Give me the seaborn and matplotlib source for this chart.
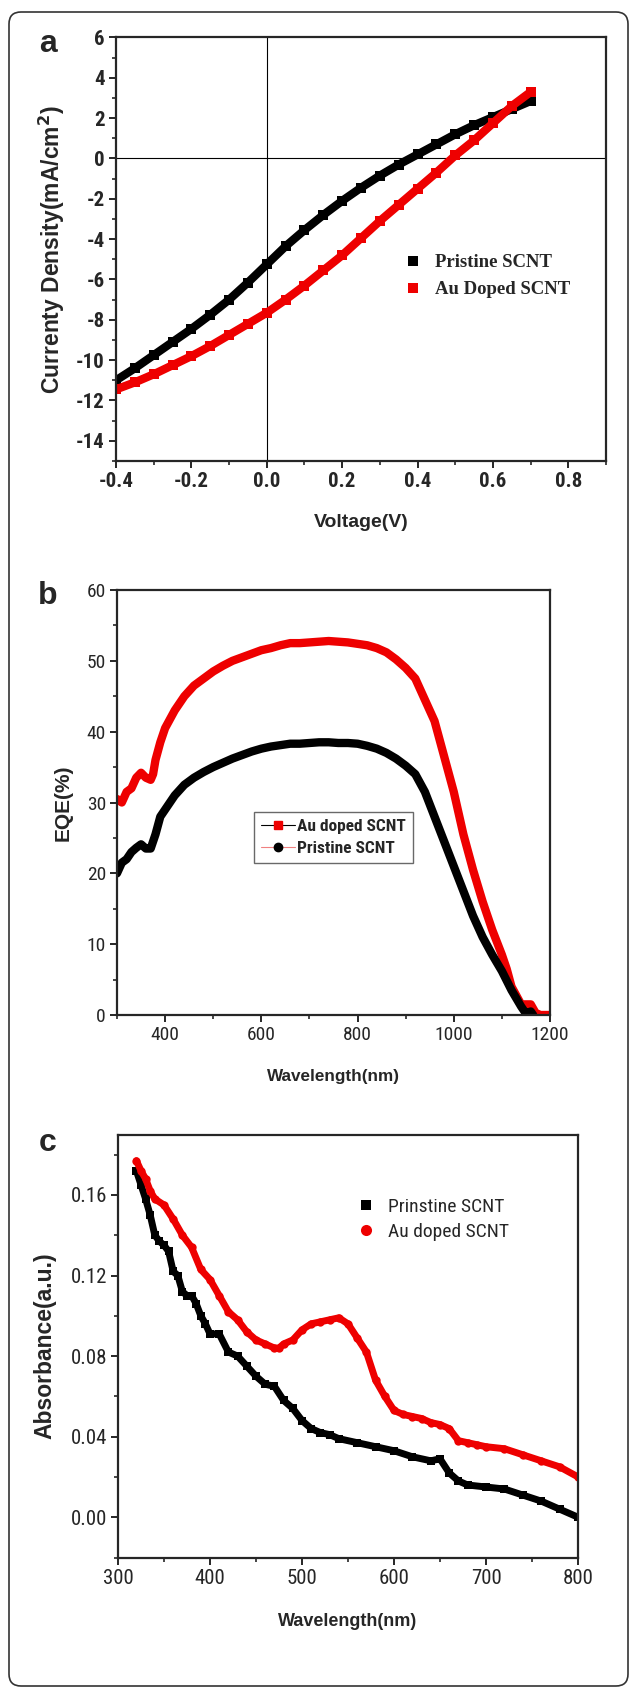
import numpy as np
import pandas as pd
import matplotlib
matplotlib.use('Agg')
import matplotlib.pyplot as plt
import seaborn as sns
from matplotlib.lines import Line2D
from matplotlib.patches import FancyBboxPatch
from matplotlib.ticker import MultipleLocator

# ---- panel a: J-V curves ----
voltage = [-0.40, -0.35, -0.30, -0.25, -0.20, -0.15, -0.10, -0.05, 0.00, 0.05, 0.10, 0.15,
           0.20, 0.25, 0.30, 0.35, 0.40, 0.45, 0.50, 0.55, 0.60, 0.65, 0.70]
j_pristine = [-11.0, -10.4, -9.75, -9.1, -8.45, -7.75, -7.0, -6.15, -5.25, -4.35, -3.55, -2.8,
              -2.1, -1.45, -0.85, -0.3, 0.2, 0.7, 1.2, 1.65, 2.05, 2.45, 2.85]
j_au = [-11.45, -11.1, -10.7, -10.25, -9.8, -9.3, -8.75, -8.2, -7.65, -7.0, -6.3, -5.55,
        -4.8, -3.95, -3.1, -2.3, -1.5, -0.7, 0.15, 0.9, 1.75, 2.6, 3.3]

# ---- panel b: EQE ----
wl_eqe_au = [300, 310, 320, 330, 340, 350, 360, 370, 375, 380, 390, 400, 420, 440, 460, 480, 500,
             520, 540, 560, 580, 600, 620, 640, 660, 680, 700, 720, 740, 760, 780, 800, 820, 840,
             860, 880, 900, 920, 940, 960, 980, 1000, 1020, 1040, 1060, 1080, 1100, 1110, 1120,
             1140, 1160, 1170, 1180, 1200]
eqe_au = [30.5, 30.0, 31.5, 32.0, 33.5, 34.2, 33.5, 33.2, 34.0, 36.0, 38.5, 40.5, 43.0, 45.0,
          46.5, 47.5, 48.5, 49.3, 50.0, 50.5, 51.0, 51.5, 51.8, 52.2, 52.5, 52.5, 52.6, 52.7,
          52.8, 52.7, 52.6, 52.4, 52.2, 51.8, 51.2, 50.2, 49.0, 47.5, 44.5, 41.5, 36.5, 31.5,
          25.5, 20.5, 16.0, 12.0, 8.5, 6.5, 4.0, 1.5, 1.5, 0.3, 0.0, 0.0]
wl_eqe_pr = [300, 310, 320, 330, 340, 350, 360, 370, 380, 390, 400, 420, 440, 460, 480, 500, 520,
             540, 560, 580, 600, 620, 640, 660, 680, 700, 720, 740, 760, 780, 800, 820, 840, 860,
             880, 900, 920, 940, 960, 980, 1000, 1020, 1040, 1060, 1080, 1100, 1120, 1140, 1150,
             1160, 1165]
eqe_pr = [20.0, 21.5, 22.0, 23.0, 23.6, 24.1, 23.5, 23.5, 25.5, 28.0, 29.0, 31.0, 32.5, 33.5,
          34.3, 35.0, 35.6, 36.2, 36.7, 37.2, 37.6, 37.9, 38.1, 38.3, 38.3, 38.4, 38.5, 38.5,
          38.4, 38.4, 38.3, 38.0, 37.6, 37.0, 36.2, 35.2, 34.0, 31.5, 28.0, 24.5, 21.0, 17.5,
          14.0, 11.0, 8.5, 6.2, 3.5, 1.2, 0.2, 0.5, 0.0]

# ---- panel c: absorbance ----
wl_abs_pr = [320, 325, 330, 335, 340, 345, 350, 355, 360, 365, 370, 375, 380, 385, 390, 395, 400,
             410, 420, 430, 440, 450, 460, 470, 480, 490, 500, 510, 520, 530, 540, 560, 580, 600,
             620, 640, 650, 660, 670, 680, 700, 720, 740, 760, 780, 800]
abs_pr = [0.172, 0.165, 0.158, 0.150, 0.140, 0.137, 0.135, 0.132, 0.122, 0.120, 0.112, 0.110,
          0.110, 0.106, 0.100, 0.096, 0.091, 0.091, 0.082, 0.080, 0.075, 0.070, 0.066, 0.065,
          0.058, 0.054, 0.048, 0.044, 0.042, 0.041, 0.039, 0.037, 0.035, 0.033, 0.030, 0.028,
          0.029, 0.022, 0.018, 0.016, 0.015, 0.014, 0.011, 0.008, 0.004, 0.000]
wl_abs_au = [320, 325, 330, 335, 340, 350, 360, 370, 380, 390, 400, 410, 420, 430, 440, 450, 460,
             470, 475, 480, 490, 500, 510, 520, 530, 540, 550, 560, 570, 580, 590, 600, 610, 620,
             630, 640, 650, 660, 670, 680, 690, 700, 720, 740, 760, 780, 800]
abs_au = [0.177, 0.172, 0.168, 0.162, 0.158, 0.155, 0.148, 0.140, 0.134, 0.123, 0.118, 0.110,
          0.102, 0.098, 0.092, 0.088, 0.086, 0.084, 0.084, 0.086, 0.088, 0.093, 0.096, 0.097,
          0.098, 0.099, 0.096, 0.089, 0.082, 0.068, 0.060, 0.053, 0.051, 0.050, 0.049, 0.047,
          0.046, 0.044, 0.038, 0.037, 0.036, 0.035, 0.034, 0.031, 0.028, 0.025, 0.020]

RED = '#ee0000'
NARROW = ['Liberation Sans Narrow', 'Roboto Condensed', 'Liberation Sans', 'DejaVu Sans']
ARIAL = ['Liberation Sans', 'DejaVu Sans']
SERIF = ['Liberation Serif', 'DejaVu Serif']

sns.set_style('ticks')
plt.rcParams['font.family'] = ARIAL
plt.rcParams['axes.unicode_minus'] = False

W, H = 629, 1687
fig = plt.figure(figsize=(W / 100, H / 100), dpi=100)


def px_axes(l, t, r, b):
    return fig.add_axes([l / W, 1 - b / H, (r - l) / W, (b - t) / H])


def style_axes(ax, tick_size, tick_weight):
    for s in ax.spines.values():
        s.set_linewidth(1.6)
        s.set_visible(True)
    ax.tick_params(which='major', direction='out', length=5, width=1.4,
                   top=False, right=False, pad=3)
    ax.tick_params(which='minor', direction='out', length=3, width=1.2,
                   top=False, right=False)
    for lab in ax.get_xticklabels() + ax.get_yticklabels():
        lab.set_family(NARROW)
        lab.set_fontsize(tick_size)
        lab.set_fontweight(tick_weight)


# outer rounded frame (in inches)
fig.patches.append(FancyBboxPatch((0.09, 0.01), 6.19, 16.74,
                                  boxstyle='round,pad=0,rounding_size=0.12',
                                  transform=fig.dpi_scale_trans, fill=False,
                                  ec='#333333', lw=1.2))

# ---------------- panel a ----------------
ax = px_axes(116, 37.5, 606, 461)
df_a = pd.DataFrame({'V': voltage * 2, 'J': j_pristine + j_au,
                     'sample': ['Pristine SCNT'] * len(voltage) + ['Au Doped SCNT'] * len(voltage)})
sns.lineplot(data=df_a, x='V', y='J', hue='sample', palette=['black', RED], ax=ax,
             marker='s', markersize=6.5, markeredgewidth=0, lw=6, legend=False)
ax.axhline(0, color='black', lw=0.8, zorder=0)
ax.axvline(0, color='black', lw=0.8, zorder=0)
ax.set_xlim(-0.4, 0.9)
ax.set_ylim(-15, 6)
ax.xaxis.set_minor_locator(MultipleLocator(0.1))
ax.yaxis.set_major_locator(MultipleLocator(2))
ax.yaxis.set_minor_locator(MultipleLocator(1))
ax.set_xticks(np.arange(-0.4, 0.81, 0.2))
ax.set_xticklabels(['-0.4', '-0.2', '0.0', '0.2', '0.4', '0.6', '0.8'])
style_axes(ax, 15, 'bold')
ax.set_xlabel('Voltage(V)', fontsize=14, fontweight='bold', va='center')
ax.xaxis.set_label_coords(0.5, -0.146)
ax.set_ylabel('Currenty Density(mA/cm$^\\mathbf{2}$)', fontsize=16.5, fontweight='bold', va='center')
ax.yaxis.set_label_coords(-0.131, 0.5)
h_a = [Line2D([], [], ls='none', marker='s', color='black', ms=7, mew=0),
       Line2D([], [], ls='none', marker='s', color=RED, ms=7, mew=0)]
ax.legend(h_a, ['Pristine SCNT', 'Au Doped SCNT'], loc='center left',
          bbox_to_anchor=(0.586, 0.436), frameon=False, handlelength=1.0,
          handletextpad=0.7, labelspacing=0.52, borderpad=0, borderaxespad=0,
          prop={'family': SERIF, 'weight': 'bold', 'size': 13.5})
fig.text(48 / W, 1 - 44 / H, 'a', fontsize=23, fontweight='bold', ha='center', va='center')

# ---------------- panel b ----------------
ax = px_axes(117, 590, 550, 1015)
df_b = pd.DataFrame({'wl': wl_eqe_au + wl_eqe_pr, 'eqe': eqe_au + eqe_pr,
                     'sample': ['Au doped SCNT'] * len(wl_eqe_au) + ['Pristine SCNT'] * len(wl_eqe_pr)})
sns.lineplot(data=df_b, x='wl', y='eqe', hue='sample', palette=[RED, 'black'], ax=ax,
             lw=6, legend=False)
ax.set_xlim(300, 1200)
ax.set_ylim(0, 60)
ax.xaxis.set_major_locator(MultipleLocator(200))
ax.xaxis.set_minor_locator(MultipleLocator(100))
ax.yaxis.set_major_locator(MultipleLocator(10))
ax.yaxis.set_minor_locator(MultipleLocator(5))
style_axes(ax, 14, 'normal')
ax.set_xlabel('Wavelength(nm)', fontsize=12.3, fontweight='bold', va='center')
ax.xaxis.set_label_coords(0.5, -0.144)
ax.set_ylabel('EQE(%)', fontsize=15, fontweight='bold', va='center')
ax.yaxis.set_label_coords(-0.125, 0.5)
h_b = [Line2D([], [], color='black', lw=0.8, marker='s', mfc=RED, mec=RED, ms=6),
       Line2D([], [], color='#f08080', lw=0.8, marker='o', mfc='black', mec='black', ms=6)]
leg = ax.legend(h_b, ['Au doped SCNT', 'Pristine SCNT'], loc='upper left',
                bbox_to_anchor=(0.316, 0.478), frameon=True, fancybox=False,
                edgecolor='#444444', handlelength=2.0, handletextpad=0.1,
                borderpad=0.4, labelspacing=0.4, borderaxespad=0,
                prop={'family': NARROW, 'weight': 'bold', 'size': 12.5})
leg.get_frame().set_linewidth(1.0)
fig.text(48 / W, 1 - 596 / H, 'b', fontsize=23, fontweight='bold', ha='center', va='center')

# ---------------- panel c ----------------
ax = px_axes(118, 1134.5, 578, 1557.5)
df_c = pd.DataFrame({'wl': wl_abs_pr + wl_abs_au, 'A': abs_pr + abs_au,
                     'sample': ['Prinstine SCNT'] * len(wl_abs_pr) + ['Au doped SCNT'] * len(wl_abs_au)})
sns.lineplot(data=df_c, x='wl', y='A', hue='sample', palette=['black', RED], ax=ax,
             style='sample', markers=['s', 'o'], dashes=False, markersize=6,
             markeredgewidth=0, lw=5, legend=False)
ax.set_xlim(300, 800)
ax.set_ylim(-0.02, 0.19)
ax.xaxis.set_major_locator(MultipleLocator(100))
ax.xaxis.set_minor_locator(MultipleLocator(50))
ax.yaxis.set_minor_locator(MultipleLocator(0.02))
ax.set_yticks([0.0, 0.04, 0.08, 0.12, 0.16])
ax.set_yticklabels(['0.00', '0.04', '0.08', '0.12', '0.16'])
style_axes(ax, 15, 'normal')
ax.set_xlabel('Wavelength(nm)', fontsize=13, fontweight='bold', va='center')
ax.xaxis.set_label_coords(0.5, -0.152)
ax.set_ylabel('Absorbance(a.u.)', fontsize=16.5, fontweight='bold', va='center')
ax.yaxis.set_label_coords(-0.159, 0.5)
h_c = [Line2D([], [], ls='none', marker='s', color='black', ms=7, mew=0),
       Line2D([], [], ls='none', marker='o', color=RED, ms=8, mew=0)]
ax.legend(h_c, ['Prinstine SCNT', 'Au doped SCNT'], loc='center left',
          bbox_to_anchor=(0.519, 0.80), frameon=False, handlelength=1.0,
          handletextpad=0.6, labelspacing=0.36, borderpad=0, borderaxespad=0,
          prop={'family': NARROW, 'size': 14})
fig.text(48 / W, 1 - 1143 / H, 'c', fontsize=23, fontweight='bold', ha='center', va='center')

fig.savefig('out.png', dpi=100, facecolor='white')
